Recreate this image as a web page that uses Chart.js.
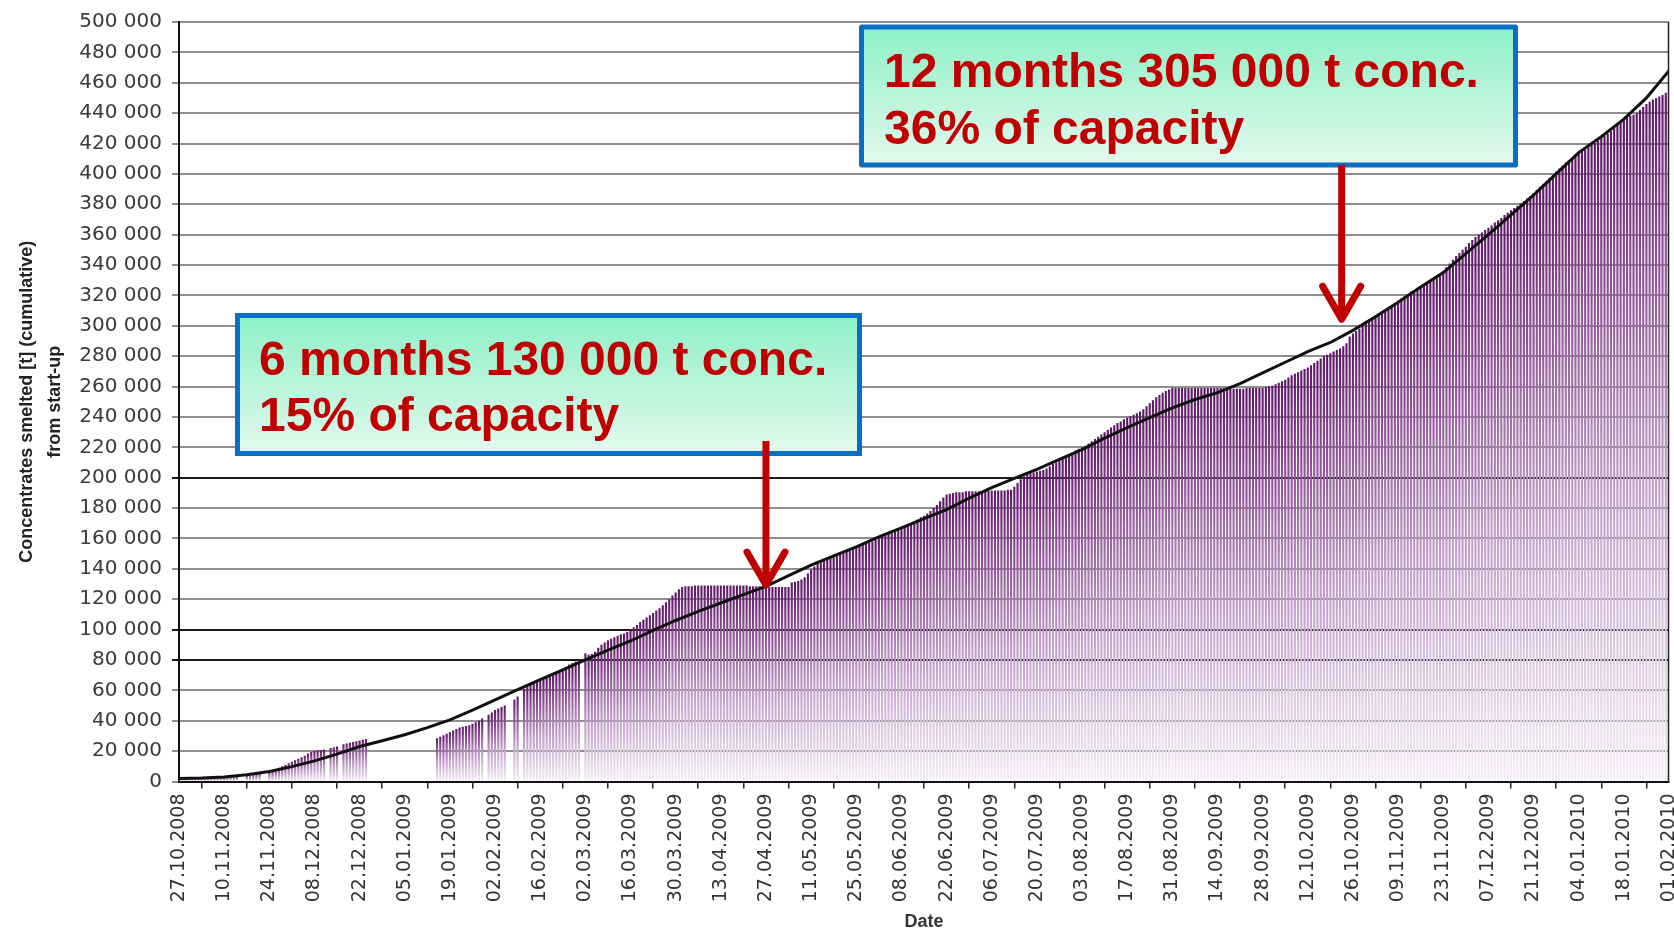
<!DOCTYPE html>
<html>
<head>
<meta charset="utf-8">
<script src="https://cdn.jsdelivr.net/npm/chart.js@4/dist/chart.umd.min.js"></script>
<style>
html,body{margin:0;padding:0;background:#fff;}
#wrap{width:1674px;height:933px;position:relative;}
</style>
</head>
<body>
<div id="wrap"><canvas id="c"></canvas></div>
<script>
// ---------- DATA ----------
// x tick labels (every 14 days, day 0 = 27.10.2008)
const tickLabels = ['27.10.2008','10.11.2008','24.11.2008','08.12.2008','22.12.2008','05.01.2009','19.01.2009','02.02.2009','16.02.2009','02.03.2009','16.03.2009','30.03.2009','13.04.2009','27.04.2009','11.05.2009','25.05.2009','08.06.2009','22.06.2009','06.07.2009','20.07.2009','03.08.2009','17.08.2009','31.08.2009','14.09.2009','28.09.2009','12.10.2009','26.10.2009','09.11.2009','23.11.2009','07.12.2009','21.12.2009','04.01.2010','18.01.2010','01.02.2010'];

// daily cumulative smelted concentrate [t], one value per day (rows = 14 days)
const smelted = [
1000,1200,1300,1500,1600,1700,1800,1900,2000,2100,2200,2300,2400,2500,
2600,2800,3000,3200,3400,0,0,4200,4500,4800,5000,5200,0,0,
6500,7000,8000,9000,10000,11000,12000,13000,14000,15000,16000,17000,18500,19500,
20000,20500,20800,21000,0,22000,22500,23000,0,24500,25000,25500,26000,26500,
27000,27500,28000,0,0,0,0,0,0,0,0,0,0,0,
0,0,0,0,0,0,0,0,0,0,28500,29500,30500,31500,
32500,33500,34500,35500,36000,36500,37000,38000,39000,40000,41500,0,44000,45500,
47000,48000,49000,50000,0,0,54000,56000,0,61000,62500,63500,64500,65500,
66500,67500,68500,69500,70500,71500,72500,74000,75500,77000,78000,79000,80000,0,
84500,83500,84000,85500,88000,90000,91500,93000,94000,95000,96000,97000,97500,98500,
100000,101500,103000,105000,106500,108000,109500,111000,112500,114000,116000,118000,120000,122500,
124500,126500,128000,128500,128500,128500,129000,129000,129000,129000,129000,129000,129000,129000,
129000,129000,129000,129000,129000,129000,129000,129000,129000,128500,128500,128500,128500,128500,
128000,128000,128000,128000,128000,128000,128000,128000,131000,131500,132000,133000,134500,137000,
139500,141500,143500,145500,146500,147500,148000,148500,149500,150000,150500,151500,152500,153500,
154500,155500,156000,157000,157500,158000,159000,160000,161000,162000,163000,164000,165000,166000,
167000,168000,169000,170000,171000,172500,174000,175000,176500,178000,180000,182000,184500,187000,
189000,189500,190000,190500,190500,190500,191000,191000,191000,191000,191000,191000,191500,191500,
191500,191500,191500,191500,191500,192000,192000,194000,196500,199000,201000,202500,203000,203500,
204000,204500,205000,206000,207500,209000,210000,211500,213000,214000,215500,216500,218000,219000,
220000,221000,222500,224000,225500,227000,228500,230000,231500,233000,234500,236000,237000,238500,
239500,240500,241500,242500,243500,245000,247000,249000,251000,253000,254500,256000,257000,258000,
259000,259000,259000,259000,259000,259000,259000,259000,259000,259000,259000,259000,259000,259000,
259000,259000,259000,259000,258500,258500,258500,258500,258500,259000,259000,259000,259000,259000,
259000,259500,260000,260500,261500,262500,263500,264500,266000,267500,268500,269500,270500,271500,
272500,274000,275500,277000,278500,280000,281000,282000,283000,284000,285000,286500,288500,293000,
295000,296500,298000,300000,302000,304000,305500,307000,308500,309500,310500,311500,313000,314500,
316500,318000,319500,321000,322500,323500,325000,326000,327500,328500,330000,331000,332500,334000,
336000,338500,341000,343500,346000,348000,350000,352000,354500,356500,358500,360000,361500,363000,
364500,366000,368000,369500,371000,373000,374500,376000,377500,379000,380500,382000,384000,385500,
387500,389500,391500,393500,395500,397500,399500,401500,403500,405500,407500,409000,410500,412000,
413500,415000,416000,417500,419000,420500,422000,423500,425000,426500,428000,430000,432000,434000,
436000,438000,438500,439000,440000,442000,444000,446000,447500,449000,450000,451000,452000,453500,
454500
];

// planned cumulative curve, one value per week (day 0, 7, 14, ...)
const planWeekly = [
2000,2300,3000,4500,6600,9800,13600,18000,23000,26800,
30800,35500,40600,47000,53800,60500,67000,73500,80000,86500,
92500,99500,106000,112000,117500,123000,128500,135500,142500,148500,
154500,161000,167000,173000,179000,186500,193500,199500,205500,212000,
218500,226000,233000,239500,246000,251500,256000,262000,269000,276000,
283000,289000,297000,306000,315500,325500,335000,347500,360000,373000,
386000,400000,414000,424500,436000,450000,468000
];

// annotation texts and anchors (day index, tonnes)
const noteTexts = [
  ['6 months 130 000 t conc.', '15% of capacity'],
  ['12 months 305 000 t conc.', '36% of capacity']
];
const noteAnchors = [
  {day: 182, value: 128000},
  {day: 360.5, value: 303000}
];

// ---------- BUILD ----------
const barPoints = smelted.map((v, i) => ({x: i, y: v}));
const linePoints = planWeekly.map((v, i) => ({x: i * 7, y: v}));

const noteLayout = [
  {box: [237.5, 315.5, 859.5, 453.5], textX: 259, base: 375, gap: 56, shaftTop: 441},
  {box: [861.5, 27, 1515.5, 165], textX: 884, base: 87, gap: 57, shaftTop: 165}
];

function fmt(v) { return String(v).replace(/\B(?=(\d{3})+(?!\d))/g, ' '); }

function barGradient(context) {
  const chart = context.chart;
  const area = chart.chartArea;
  if (!area || !context.parsed) return '#a070a8';
  const ys = chart.scales.y;
  const top = ys.getPixelForValue(context.parsed.y);
  const bot = ys.getPixelForValue(0);
  if (!isFinite(top) || bot - top < 1) return '#7a3a80';
  const g = chart.ctx.createLinearGradient(0, top, 0, bot);
  g.addColorStop(0, '#5e1766');
  g.addColorStop(0.2, '#87498f');
  g.addColorStop(0.55, '#c09cc8');
  g.addColorStop(1, '#f4ecf6');
  return g;
}

const notesPlugin = {
  id: 'notes',
  afterDraw(chart) {
    const {ctx, chartArea, scales} = chart;
    ctx.save();
    // right frame line
    ctx.strokeStyle = '#222';
    ctx.lineWidth = 1.5;
    ctx.beginPath();
    ctx.moveTo(chartArea.right - 0.5, chartArea.top);
    ctx.lineTo(chartArea.right - 0.5, chartArea.bottom);
    ctx.stroke();

    noteLayout.forEach((L, k) => {
      const [x0, y0, x1, y1] = L.box;
      const g = ctx.createLinearGradient(0, y0, 0, y1);
      g.addColorStop(0, '#8ef0c9');
      g.addColorStop(1, '#e3f9ee');
      ctx.fillStyle = g;
      ctx.fillRect(x0, y0, x1 - x0, y1 - y0);
      ctx.lineWidth = 5;
      ctx.strokeStyle = '#0a6fc2';
      ctx.strokeRect(x0, y0, x1 - x0, y1 - y0);

      ctx.fillStyle = '#c00000';
      ctx.font = 'bold 48px "Liberation Sans", Arial, sans-serif';
      ctx.textAlign = 'left';
      ctx.textBaseline = 'alphabetic';
      noteTexts[k].forEach((t, i) => ctx.fillText(t, L.textX, L.base + i * L.gap));

      const a = noteAnchors[k];
      const tx = scales.x.getPixelForValue(a.day);
      const ty = scales.y.getPixelForValue(a.value);
      ctx.strokeStyle = '#c00000';
      ctx.lineWidth = 7;
      ctx.lineCap = 'butt';
      ctx.beginPath();
      ctx.moveTo(tx, L.shaftTop);
      ctx.lineTo(tx, ty - 4);
      ctx.stroke();
      ctx.lineCap = 'round';
      ctx.lineJoin = 'round';
      ctx.beginPath();
      ctx.moveTo(tx - 19, ty - 35);
      ctx.lineTo(tx, ty - 2);
      ctx.lineTo(tx + 19, ty - 35);
      ctx.stroke();
    });
    ctx.restore();
  }
};

const darkLines = [80000, 100000, 200000];

new Chart(document.getElementById('c'), {
  data: {
    datasets: [
      {
        type: 'line',
        data: linePoints,
        borderColor: '#111',
        borderWidth: 3,
        pointRadius: 0,
        tension: 0,
        order: 0
      },
      {
        type: 'bar',
        data: barPoints,
        backgroundColor: barGradient,
        borderWidth: 0,
        barPercentage: 0.66,
        categoryPercentage: 1.0,
        order: 1
      }
    ]
  },
  options: {
    responsive: true,
    maintainAspectRatio: false,
    animation: false,
    events: [],
    layout: {padding: {top: 17, right: 5, bottom: 0, left: 0}},
    plugins: {legend: {display: false}, tooltip: {enabled: false}},
    scales: {
      x: {
        type: 'linear',
        min: 0,
        max: 462,
        offset: false,
        afterFit: (s) => { s.height = 151.5; s.paddingLeft = 0; s.paddingRight = 0; },
        grid: {drawOnChartArea: false, drawTicks: true, tickLength: 7, color: '#222', lineWidth: 1.5},
        border: {display: true, color: '#111', width: 2},
        ticks: {
          stepSize: 14,
          autoSkip: false,
          minRotation: 90,
          maxRotation: 90,
          padding: 5,
          color: '#333',
          font: {family: '"DejaVu Sans", Verdana, sans-serif', size: 19},
          callback: (v) => (v % 14 === 0 ? tickLabels[v / 14] : null)
        },
        title: {
          display: true,
          text: 'Date',
          color: '#333',
          padding: {top: 0, bottom: 0},
          font: {family: '"Liberation Sans", Arial, sans-serif', size: 18, weight: 'bold'}
        }
      },
      y: {
        min: 0,
        max: 500000,
        afterFit: (s) => { s.width = 179; },
        grid: {
          color: (c) => (c.tick && darkLines.includes(c.tick.value) ? '#1a1a1a' : '#8e8e8e'),
          lineWidth: 2,
          tickLength: 7
        },
        border: {display: true, color: '#111', width: 2},
        ticks: {
          stepSize: 20000,
          padding: 10,
          color: '#3a3a3a',
          font: {family: '"DejaVu Sans", Verdana, sans-serif', size: 20},
          callback: (v) => fmt(v)
        },
        title: {
          display: true,
          text: ['Concentrates smelted [t] (cumulative)', 'from start-up'],
          color: '#222',
          padding: {top: 13, bottom: 0},
          font: {family: '"Liberation Sans", Arial, sans-serif', size: 18, weight: 'bold', lineHeight: '28px'}
        }
      }
    }
  },
  plugins: [notesPlugin]
});
</script>
</body>
</html>
